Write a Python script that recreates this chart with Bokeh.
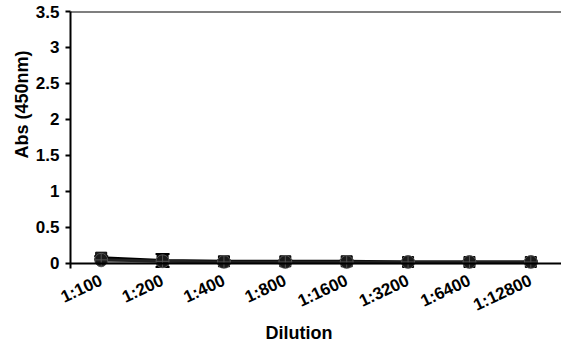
from bokeh.plotting import figure
from bokeh.models import Range1d, FixedTicker, Span, Whisker, ColumnDataSource, Title
from bokeh.embed import file_html
from bokeh.resources import INLINE

dilutions = ["1:100", "1:200", "1:400", "1:800", "1:1600", "1:3200", "1:6400", "1:12800"]
series_a = [0.08, 0.04, 0.03, 0.03, 0.03, 0.02, 0.02, 0.02]
series_b = [0.05, 0.03, 0.02, 0.02, 0.02, 0.02, 0.02, 0.02]
series_c = [0.03, 0.02, 0.02, 0.01, 0.01, 0.01, 0.01, 0.01]
err_a = [0.02, 0.09, 0.01, 0.01, 0.01, 0.01, 0.01, 0.01]
y_ticks = [0, 0.5, 1, 1.5, 2, 2.5, 3, 3.5]
y_tick_labels = ["0", "0.5", "1", "1.5", "2", "2.5", "3", "3.5"]

FONT = "Liberation Sans"

p = figure(x_range=dilutions, y_range=Range1d(-0.07, 3.5),
           width=561, height=347, output_backend="svg", toolbar_location=None,
           min_border_left=70, min_border_right=0, min_border_top=11, min_border_bottom=79)
p.frame_width = 491
p.frame_height = 257
p.xgrid.visible = False
p.ygrid.visible = False
p.outline_line_color = None
p.background_fill_color = "white"
p.border_fill_color = "white"

# y axis
p.yaxis.ticker = FixedTicker(ticks=y_ticks)
p.yaxis.major_label_overrides = {t: l for t, l in zip(y_ticks, y_tick_labels)}
p.yaxis.major_label_text_font = FONT
p.yaxis.major_label_text_font_style = "bold"
p.yaxis.major_label_text_font_size = "17px"
p.yaxis.major_label_text_color = "black"
p.yaxis.axis_line_width = 2
p.yaxis.axis_line_color = "black"
p.yaxis.major_tick_line_width = 2
p.yaxis.major_tick_line_color = "black"
p.yaxis.major_tick_in = 0
p.yaxis.major_tick_out = 5
p.yaxis.minor_tick_line_color = None
p.yaxis.major_label_standoff = 6

# x axis
p.xaxis.major_label_text_font = FONT
p.xaxis.major_label_text_font_style = "bold"
p.xaxis.major_label_text_font_size = "17px"
p.xaxis.major_label_text_color = "black"
p.xaxis.major_label_orientation = 0.44
p.xaxis.axis_line_color = None
p.xaxis.major_tick_line_color = None
p.xaxis.major_label_standoff = 5

# axis titles as side titles (offset along the axis from the frame start)
p.add_layout(Title(text="Abs (450nm)", align="left", offset=110, standoff=1,
                   text_font=FONT, text_font_style="bold", text_font_size="18px",
                   text_color="black"), "left")
p.add_layout(Title(text="Dilution", align="left", offset=195, standoff=-11,
                   text_font=FONT, text_font_style="bold", text_font_size="18px",
                   text_color="black"), "below")

# top border and zero line
p.add_layout(Span(location=3.5, dimension="width", line_color="black", line_width=2))
p.add_layout(Span(location=0, dimension="width", line_color="black", line_width=2))

src = ColumnDataSource(dict(x=dilutions, a=series_a, b=series_b, c=series_c,
                            lo=[v - e for v, e in zip(series_a, err_a)],
                            hi=[v + e for v, e in zip(series_a, err_a)]))

w = Whisker(source=src, base="x", lower="lo", upper="hi", line_color="black", line_width=2)
w.upper_head.size = 14
w.lower_head.size = 14
w.upper_head.line_width = 2
w.lower_head.line_width = 2
p.add_layout(w)

p.line("x", "c", source=src, line_color="#999999", line_width=3)
p.scatter("x", "c", source=src, marker="circle", size=11, fill_color="#aaaaaa", line_color="#777777")
p.line("x", "a", source=src, line_color="black", line_width=3)
p.scatter("x", "a", source=src, marker="square", size=11, fill_color="#222222", line_color="black")
p.line("x", "b", source=src, line_color="#222222", line_width=3)
p.scatter("x", "b", source=src, marker="circle_cross", size=13, fill_color="#1a1a1a", line_color="#555555", line_width=1)

open("out.html", "w").write(file_html(p, INLINE))
